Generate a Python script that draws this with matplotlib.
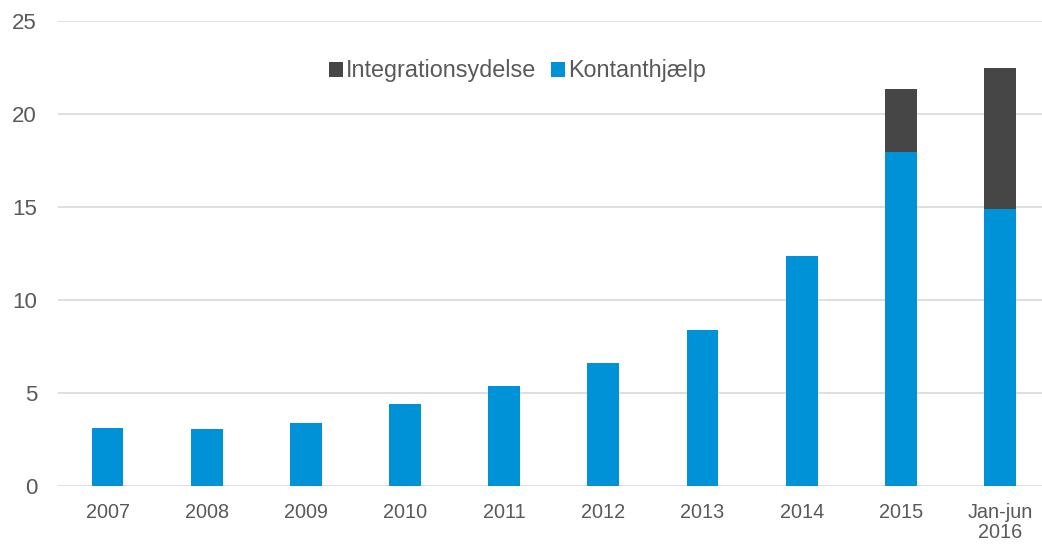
import matplotlib
matplotlib.use("Agg")
import matplotlib.pyplot as plt
import numpy as np

categories = ["2007", "2008", "2009", "2010", "2011", "2012", "2013", "2014", "2015", "Jan-jun\n2016"]
kontanthjaelp = [3.13, 3.10, 3.42, 4.41, 5.40, 6.65, 8.42, 12.39, 17.94, 14.89]
integrationsydelse = [0, 0, 0, 0, 0, 0, 0, 0, 3.40, 7.58]

plt.rcParams['font.family'] = ['Liberation Sans', 'DejaVu Sans']
text_color = "#595959"

fig = plt.figure(figsize=(10.42, 5.46), dpi=100)
ax = fig.add_axes([0.0556, 0.109, 0.9517, 0.8525])

x = np.arange(len(categories))
w = 0.32
ax.bar(x, kontanthjaelp, width=w, color="#0092D6", label="Kontanthjælp", zorder=3)
ax.bar(x, integrationsydelse, width=w, bottom=kontanthjaelp, color="#464646",
       label="Integrationsydelse", zorder=3)

ax.set_xlim(-0.5, len(categories) - 0.5)
ax.set_ylim(0, 25)
ax.set_yticks([0, 5, 10, 15, 20, 25])
ax.set_xticks(x)
ax.set_xticklabels(categories, linespacing=1.05)
ax.grid(axis="y", color="#D9D9D9", linewidth=1.2, zorder=0)
for s in ax.spines.values():
    s.set_visible(False)
ax.tick_params(axis="both", length=0, colors=text_color)
ax.tick_params(axis="y", pad=15, labelsize=16)
ax.tick_params(axis="x", pad=12, labelsize=14.3)

handles, labels = ax.get_legend_handles_labels()
leg = ax.legend(handles[::-1], labels[::-1], loc="center", bbox_to_anchor=(0.4633, 0.893),
                ncol=2, frameon=False, fontsize=16.8, handlelength=0.6, handleheight=0.6,
                handletextpad=0.15, columnspacing=0.6, labelcolor=text_color)

fig.savefig("out.png", dpi=100)
